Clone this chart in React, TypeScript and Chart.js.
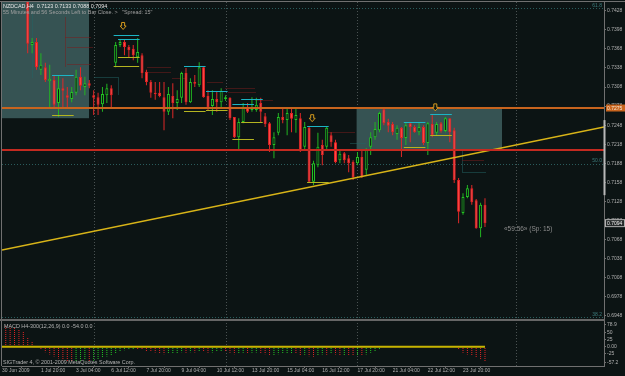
import React, { useEffect, useRef } from "react";
import { Chart, registerables } from "chart.js";

Chart.register(...registerables);

// ---------------- texts ----------------
const headerText = "NZDCAD,H4  0.7123 0.7133 0.7088 0.7094";
const timerText = '55 Minutes and 56 Seconds Left to Bar Close. >   "Spread: 15"';
const macdTitle = "MACD H4-300(12,26,9) 0.0 -54.0 0.0";
const copyrightText = "SIGTrader 4, \u00a9 2001-2009 MetaQuotes Software Corp.";
const countdownText = "\u00ab59:56\u00bb (Sp: 15)";

// ---------------- axes ----------------
const timeLabels = ["30 Jun 2009", "1 Jul 20:00", "3 Jul 04:00", "6 Jul 12:00", "7 Jul 20:00", "9 Jul 04:00", "10 Jul 12:00", "13 Jul 20:00", "15 Jul 04:00", "16 Jul 12:00", "17 Jul 20:00", "21 Jul 04:00", "22 Jul 12:00", "23 Jul 20:00"];
const timeLabelBars = [-5.85, 3, 11, 19, 27, 35, 43, 51, 59, 67, 75, 83, 91, 99];
const X_MIN = -5.85;
const X_MAX = 131.07;
const PRICE_MIN = 0.69417;
const PRICE_MAX = 0.74417;
const priceTicks = [0.7428, 0.7398, 0.7368, 0.7338, 0.7308, 0.7278, 0.7248, 0.7218, 0.7188, 0.7158, 0.7128, 0.7098, 0.7068, 0.7038, 0.7008, 0.6978, 0.6948];
const MACD_MIN = -68.9;
const MACD_MAX = 95.4;
const macdTicks = [78.9, 50, 25, 0, -25, -57.2];

// ---------------- candles (H4 bars, index 0 = 1 Jul 12:00) ----------------
const opens = [0.7458, 0.7374, 0.7379, 0.7335, 0.7339, 0.7317, 0.7319, 0.7283, 0.7306, 0.7295, 0.7289, 0.7299, 0.7324, 0.7308, 0.7314, 0.7295, 0.7292, 0.7281, 0.7295, 0.7306, 0.7346, 0.7374, 0.7379, 0.7371, 0.7368, 0.7355, 0.7358, 0.7332, 0.7316, 0.7299, 0.7299, 0.7292, 0.7269, 0.7294, 0.7283, 0.7291, 0.7330, 0.7284, 0.7316, 0.7311, 0.7339, 0.7294, 0.7278, 0.7289, 0.7284, 0.7289, 0.7291, 0.7261, 0.7229, 0.7253, 0.7276, 0.7272, 0.7272, 0.7283, 0.7262, 0.7251, 0.7217, 0.7236, 0.7261, 0.7256, 0.7267, 0.7256, 0.7259, 0.7214, 0.7244, 0.7159, 0.7185, 0.7217, 0.7214, 0.7232, 0.7221, 0.7193, 0.7204, 0.7196, 0.7190, 0.7188, 0.7198, 0.7178, 0.7214, 0.7229, 0.7240, 0.7273, 0.7253, 0.7250, 0.7234, 0.7244, 0.7228, 0.7251, 0.7245, 0.7237, 0.7245, 0.7220, 0.7250, 0.7236, 0.7251, 0.7239, 0.7259, 0.7240, 0.7162, 0.7110, 0.7135, 0.7149, 0.7130, 0.7086, 0.7123];
const highs = [0.7465, 0.7385, 0.7385, 0.7361, 0.7346, 0.7343, 0.7327, 0.7327, 0.7322, 0.7308, 0.7308, 0.7335, 0.7339, 0.7324, 0.7319, 0.7303, 0.7299, 0.7308, 0.7313, 0.7311, 0.7379, 0.7382, 0.7382, 0.7374, 0.7374, 0.7385, 0.7361, 0.7335, 0.7319, 0.7316, 0.7316, 0.7316, 0.7308, 0.7314, 0.7303, 0.7332, 0.7338, 0.7322, 0.7327, 0.7347, 0.7341, 0.7303, 0.7303, 0.7300, 0.7306, 0.7295, 0.7292, 0.7261, 0.7259, 0.7283, 0.7283, 0.7292, 0.7291, 0.7291, 0.7267, 0.7253, 0.7237, 0.7267, 0.7275, 0.7275, 0.7275, 0.7276, 0.7267, 0.7253, 0.7245, 0.7192, 0.7236, 0.7225, 0.7245, 0.7237, 0.7225, 0.7209, 0.7206, 0.7201, 0.7193, 0.7206, 0.7209, 0.7212, 0.7237, 0.7253, 0.7269, 0.7275, 0.7258, 0.7253, 0.7248, 0.7245, 0.7253, 0.7253, 0.7248, 0.7253, 0.7248, 0.7253, 0.7264, 0.7253, 0.7253, 0.7261, 0.7259, 0.7244, 0.7165, 0.7141, 0.7154, 0.7154, 0.7132, 0.7126, 0.7133];
const lows = [0.7361, 0.7361, 0.7335, 0.7327, 0.7316, 0.7276, 0.7276, 0.7261, 0.7276, 0.7276, 0.7284, 0.7295, 0.7303, 0.7295, 0.7306, 0.7264, 0.7264, 0.7269, 0.7283, 0.7276, 0.7339, 0.7371, 0.7358, 0.7355, 0.7350, 0.7346, 0.7322, 0.7311, 0.7291, 0.7288, 0.7292, 0.7240, 0.7264, 0.7259, 0.7272, 0.7283, 0.7280, 0.7283, 0.7308, 0.7308, 0.7291, 0.7272, 0.7264, 0.7269, 0.7276, 0.7286, 0.7256, 0.7228, 0.7209, 0.7251, 0.7267, 0.7269, 0.7269, 0.7253, 0.7245, 0.7206, 0.7196, 0.7232, 0.7251, 0.7232, 0.7237, 0.7236, 0.7206, 0.7209, 0.7157, 0.7154, 0.7182, 0.7185, 0.7209, 0.7214, 0.7188, 0.7188, 0.7188, 0.7174, 0.7162, 0.7185, 0.7165, 0.7170, 0.7201, 0.7225, 0.7237, 0.7248, 0.7237, 0.7232, 0.7225, 0.7198, 0.7217, 0.7221, 0.7236, 0.7232, 0.7217, 0.7201, 0.7229, 0.7232, 0.7236, 0.7237, 0.7221, 0.7157, 0.7094, 0.7107, 0.7133, 0.7123, 0.7085, 0.7072, 0.7088];
const closes = [0.7376, 0.7379, 0.7339, 0.7343, 0.7319, 0.7321, 0.7280, 0.7306, 0.7302, 0.7291, 0.7300, 0.7324, 0.7310, 0.7314, 0.7310, 0.7291, 0.7280, 0.7297, 0.7306, 0.7295, 0.7374, 0.7379, 0.7371, 0.7366, 0.7358, 0.7363, 0.7330, 0.7316, 0.7299, 0.7297, 0.7294, 0.7269, 0.7297, 0.7283, 0.7289, 0.7330, 0.7284, 0.7316, 0.7313, 0.7339, 0.7292, 0.7276, 0.7289, 0.7284, 0.7302, 0.7292, 0.7259, 0.7229, 0.7253, 0.7275, 0.7269, 0.7276, 0.7280, 0.7269, 0.7250, 0.7217, 0.7229, 0.7261, 0.7256, 0.7267, 0.7258, 0.7264, 0.7209, 0.7245, 0.7159, 0.7188, 0.7214, 0.7201, 0.7244, 0.7221, 0.7190, 0.7203, 0.7193, 0.7188, 0.7166, 0.7198, 0.7166, 0.7209, 0.7229, 0.7242, 0.7267, 0.7251, 0.7247, 0.7237, 0.7244, 0.7228, 0.7248, 0.7245, 0.7237, 0.7245, 0.7220, 0.7251, 0.7232, 0.7250, 0.7239, 0.7259, 0.7237, 0.7162, 0.7112, 0.7135, 0.7149, 0.7127, 0.7086, 0.7123, 0.7094];

// ---------------- MACD sub-window ----------------
const MACD_START = -6;
const macdHist = [80, 77, 72, 67, 61, 55, 34, 19,
  4, -10, -20, -28, -35, -42, -48, -52, -55,
  -54, -50, -48, -52, -50, -47,
  -40, -35, -30, -24, -18, -13, -10, -8,
  -9, -12, -15, -18, -21, -24, -27,
  -26, -25, -24, -20,
  -22, -20, -21, -16, -19, -22, -21, -19, -17,
  -18, -22, -27, -25, -22, -23, -22, -21, -24, -27, -32,
  -30, -27, -26, -25, -24, -25, -30, -29, -34, -36, -32, -28,
  -29, -26, -28, -31, -30, -31, -33, -30, -32, -28, -22, -16, -10,
  -5, -2, -1, 0, 1, 0.5, 0, 1, 2, 1, 0, 0.5, 1, 0, -0.5, -1,
  -3, -12, -22, -28, -33, -38, -45, -54];
const macdSignalBars = [-6, 104];
const macdSignalValues = [0, 0];

// ---------------- objects on the price chart ----------------
const trendBars = [-5.85, 131.07];
const trendPrices = [0.70517, 0.72451];
const orangeLevel = 0.7275;
const redLevel = 0.7209;
const fibPrices = [0.7432, 0.7187, 0.6946];
const fibLabels = ["61.8", "50.0", "38.2"];
const periodSeparators = [15, 45, 75, 111];
// [fromBar, toBar, topPrice, bottomPrice]
const shadedZones = [[-5.85, 13.94, 0.7445, 0.7259], [74.8, 107.87, 0.7275, 0.7209]];
// [fromBar, toBar, highPrice, lowPrice]
const rangeBoxes = [
  [20, 24.9, 0.7390, 0.7341], [21, 25, 0.7384, 0.7356], [6, 10, 0.7327, 0.7264],
  [36, 40, 0.7341, 0.7270], [41, 45, 0.7302, 0.7272], [47, 51, 0.7281, 0.7226],
  [49, 53, 0.7289, 0.7253], [64, 68, 0.7247, 0.7159], [86, 90, 0.7253, 0.7214],
  [92, 96, 0.7265, 0.7232],
];
const arrowBars = [21.7, 64.7, 92.7];
const arrowPrices = [0.7404, 0.7259, 0.7276];
// [bar0, price0, bar1, price1, kind]
const dottedTraces: any[] = [
  [1, 0.7426, 1, 0.7324, "t"], [8.5, 0.7418, 8.5, 0.7339, "r"], [8.5, 0.7387, 14.2, 0.7387, "r"],
  [8.9, 0.7371, 14.6, 0.7371, "r"], [8.9, 0.7344, 14.2, 0.7344, "r"], [15.1, 0.7324, 20.5, 0.7324, "t"],
  [20.5, 0.7324, 20.5, 0.7295, "t"], [27.2, 0.7339, 32.4, 0.7339, "r"], [27.2, 0.7332, 32.4, 0.7332, "r"],
  [32.8, 0.7322, 35.8, 0.7322, "r"], [40.8, 0.7316, 44.2, 0.7316, "r"], [44.9, 0.7306, 51.7, 0.7306, "r"],
  [45.6, 0.7300, 51.7, 0.7300, "r"], [51.7, 0.7288, 55.8, 0.7288, "r"], [68.1, 0.7237, 74.4, 0.7237, "r"],
  [73.3, 0.7220, 76.7, 0.7220, "t"], [98.8, 0.7209, 98.8, 0.7174, "t"], [98.8, 0.7193, 103.5, 0.7193, "r"],
  [98.8, 0.7174, 104, 0.7174, "t"],
];
const axisMarkPrices = [0.7256, 0.7138];

// ---------------- styles ----------------
const FONT = '"Liberation Sans", "DejaVu Sans", Arial, sans-serif';
const BG = "#0c1414";
const AXIS = "#707070";
const TICK = "#b0b0b0";

function seg(ctx: any, x0: number, y0: number, x1: number, y1: number) {
  ctx.beginPath();
  ctx.moveTo(x0, y0);
  ctx.lineTo(x1, y1);
  ctx.stroke();
}
const crisp = (v: number) => Math.round(v) + 0.5;

const decor = {
  id: "mt4decor",
  beforeDraw(chart: any) {
    const { ctx, width, height } = chart;
    ctx.save();
    ctx.fillStyle = BG;
    ctx.fillRect(0, 0, width, height);
    ctx.restore();
  },
  beforeDatasetsDraw(chart: any) {
    const { ctx, chartArea: ca } = chart;
    const { x, y } = chart.scales;
    const X = (v: number) => x.getPixelForValue(v);
    const Y = (v: number) => y.getPixelForValue(v);
    ctx.save();
    ctx.beginPath();
    ctx.rect(ca.left, y.top, ca.right - ca.left, y.bottom - y.top);
    ctx.clip();
    ctx.lineWidth = 1;
    ctx.setLineDash([1, 2]);
    ctx.strokeStyle = "#2a5c5c";
    for (const p of fibPrices) {
      const yy = crisp(Y(p));
      seg(ctx, ca.left, yy, ca.right, yy);
    }
    ctx.restore();

    ctx.save();
    ctx.lineWidth = 1;
    ctx.setLineDash([1, 2]);
    ctx.strokeStyle = "#4a5252";
    for (const b of periodSeparators) {
      const xx = crisp(X(b));
      seg(ctx, xx, ca.top, xx, ca.bottom);
    }
    ctx.restore();

    ctx.save();
    ctx.beginPath();
    ctx.rect(ca.left, y.top, ca.right - ca.left, y.bottom - y.top);
    ctx.clip();
    ctx.fillStyle = "#365353";
    for (const [a, b, top, bot] of shadedZones) {
      const x0 = X(a), x1 = X(b), y0 = Y(top), y1 = Y(bot);
      ctx.fillRect(x0, y0, x1 - x0, y1 - y0);
    }
    ctx.lineWidth = 1;
    ctx.setLineDash([1, 1]);
    for (const [a, p0, b, p1, k] of dottedTraces) {
      ctx.strokeStyle = k === "r" ? "#7a1c1c" : "#236464";
      seg(ctx, crisp(X(a)), crisp(Y(p0)), crisp(X(b)), crisp(Y(p1)));
    }
    ctx.restore();
  },
  afterDatasetsDraw(chart: any) {
    const { ctx, chartArea: ca } = chart;
    const { x, y } = chart.scales;
    const X = (v: number) => x.getPixelForValue(v);
    const Y = (v: number) => y.getPixelForValue(v);
    ctx.save();
    ctx.beginPath();
    ctx.rect(ca.left, y.top, ca.right - ca.left, y.bottom - y.top);
    ctx.clip();
    // horizontal levels
    ctx.lineWidth = 2;
    ctx.strokeStyle = "#c8641e";
    seg(ctx, ca.left, Math.round(Y(orangeLevel)), ca.right, Math.round(Y(orangeLevel)));
    ctx.strokeStyle = "#c42a20";
    seg(ctx, ca.left, Math.round(Y(redLevel)), ca.right, Math.round(Y(redLevel)));
    // range boxes
    ctx.lineWidth = 1;
    for (const [a, b, hi, lo] of rangeBoxes) {
      const x0 = X(a) - 2, x1 = X(b) + 2;
      ctx.strokeStyle = "#1cb4c4";
      seg(ctx, x0, crisp(Y(hi)), x1, crisp(Y(hi)));
      ctx.strokeStyle = "#b4b420";
      seg(ctx, x0, crisp(Y(lo)), x1, crisp(Y(lo)));
    }
    // arrows
    arrowBars.forEach((b, i) => {
      const cx = X(b), cy = Y(arrowPrices[i]);
      ctx.beginPath();
      ctx.moveTo(cx - 1.5, cy - 3.5);
      ctx.lineTo(cx + 1.5, cy - 3.5);
      ctx.lineTo(cx + 1.5, cy);
      ctx.lineTo(cx + 3, cy);
      ctx.lineTo(cx, cy + 3.5);
      ctx.lineTo(cx - 3, cy);
      ctx.lineTo(cx - 1.5, cy);
      ctx.closePath();
      ctx.fillStyle = BG;
      ctx.fill();
      ctx.strokeStyle = "#d49a1e";
      ctx.stroke();
    });
    ctx.restore();
  },
  afterDraw(chart: any) {
    const { ctx, chartArea: ca, width } = chart;
    const { x, y, ym } = chart.scales;
    const X = (v: number) => x.getPixelForValue(v);
    const Y = (v: number) => y.getPixelForValue(v);
    ctx.save();
    // frame
    ctx.strokeStyle = AXIS;
    ctx.lineWidth = 1;
    seg(ctx, 0, ca.top - 0.5, width, ca.top - 0.5);
    seg(ctx, ca.left - 0.5, ca.top, ca.left - 0.5, ca.bottom);
    seg(ctx, ca.right + 0.5, ca.top, ca.right + 0.5, ca.bottom + 1);
    seg(ctx, ca.left, ca.bottom + 0.5, ca.right, ca.bottom + 0.5);
    ctx.fillStyle = "#666666";
    ctx.fillRect(0, ym.top - 1, ca.right + 1, 2);
    // axis highlight
    ctx.strokeStyle = "#b8b8b8";
    ctx.lineWidth = 2;
    seg(ctx, ca.right + 0.5, Y(axisMarkPrices[0]), ca.right + 0.5, Y(axisMarkPrices[1]));

    // texts
    ctx.textAlign = "left";
    ctx.textBaseline = "alphabetic";
    ctx.font = `5.4px ${FONT}`;
    ctx.fillStyle = "#e6e6e6";
    ctx.fillText(headerText, 3, 7.5);
    ctx.fillStyle = "#a0a0a0";
    ctx.fillText(timerText, 3, 13.5);
    ctx.fillStyle = "#b4b4b4";
    ctx.fillText(macdTitle, 4, ym.top + 8);
    ctx.fillText(copyrightText, 3, ca.bottom - 2);
    ctx.font = `6.5px ${FONT}`;
    ctx.fillStyle = "#8c8c8c";
    ctx.fillText(countdownText, X(opens.length - 1) + 19, Y(closes[closes.length - 1]) + 8);

    // fib labels
    ctx.font = `5px ${FONT}`;
    ctx.textAlign = "right";
    ctx.fillStyle = "#3c7c7c";
    fibPrices.forEach((p, i) => {
      ctx.fillText(fibLabels[i], ca.right - 2, Math.max(Y(p) - 1.5, ca.top + 5));
    });

    // orange level box
    ctx.textAlign = "left";
    ctx.textBaseline = "middle";
    const yo = Y(orangeLevel);
    ctx.fillStyle = "#c8641e";
    ctx.fillRect(ca.right + 2, yo - 3.5, 19, 7);
    ctx.fillStyle = "#f8ecd8";
    ctx.fillText(orangeLevel.toFixed(4), ca.right + 3, yo + 0.5);
    // current price box
    const last = closes[closes.length - 1];
    const yc = Y(last);
    ctx.fillStyle = "#262a2a";
    ctx.fillRect(ca.right + 1, yc - 3.5, 20, 7);
    ctx.strokeStyle = "#b0b0b0";
    ctx.lineWidth = 1;
    ctx.strokeRect(ca.right + 1.5, yc - 3.5, 19, 7);
    ctx.fillStyle = "#f0f0f0";
    ctx.fillText(last.toFixed(4), ca.right + 3, yc + 0.5);
    ctx.restore();
  },
};

export default function App() {
  const ref = useRef<HTMLCanvasElement>(null);
  useEffect(() => {
    const canvas = ref.current as HTMLCanvasElement;
    const ctx = canvas.getContext("2d") as CanvasRenderingContext2D;
    const pattern = (color: string) => {
      const c = document.createElement("canvas");
      c.width = 1;
      c.height = 2;
      const g = c.getContext("2d") as CanvasRenderingContext2D;
      g.fillStyle = color;
      g.fillRect(0, 0, 1, 1);
      return ctx.createPattern(c, "repeat");
    };
    const macdRed = pattern("#e02424");
    const macdGreen = pattern("#22c422");
    const bull = opens.map((o, i) => closes[i] >= o);
    const tickFont = { family: FONT, size: 5 };

    const chart = new Chart(ctx, {
      type: "bar",
      data: {
        datasets: [
          {
            type: "line",
            data: trendBars.map((b, i) => ({ x: b, y: trendPrices[i] })),
            borderColor: "#d8b418",
            borderWidth: 1.5,
            pointRadius: 0,
            yAxisID: "y",
            order: 0,
          } as any,
          {
            type: "line",
            data: macdSignalBars.map((b, i) => ({ x: b, y: macdSignalValues[i] })),
            borderColor: "#c8b400",
            borderWidth: 2,
            pointRadius: 0,
            yAxisID: "ym",
            order: 0,
          } as any,
          {
            data: opens.map((o, i) => ({ x: i, y: [o, closes[i]] })),
            backgroundColor: bull.map((b) => (b ? BG : "#ff4848")),
            borderColor: bull.map((b) => (b ? "#22c422" : "#e22424")),
            borderWidth: 1,
            borderSkipped: false,
            barThickness: 3,
            grouped: false,
            inflateAmount: 0,
            yAxisID: "y",
            order: 1,
          } as any,
          {
            data: lows.map((l, i) => ({ x: i, y: [l, highs[i]] })),
            backgroundColor: bull.map((b) => (b ? "#22b422" : "#e02828")),
            borderWidth: 0,
            barThickness: 1,
            grouped: false,
            inflateAmount: 0,
            yAxisID: "y",
            order: 2,
          } as any,
          {
            data: macdHist.map((v, i) => ({ x: i + MACD_START, y: v })),
            backgroundColor: macdHist.map((v, i) => (i > 0 && v > macdHist[i - 1] ? macdGreen : macdRed)),
            borderWidth: 0,
            barThickness: 1,
            grouped: false,
            inflateAmount: 0,
            yAxisID: "ym",
            order: 3,
          } as any,
        ],
      },
      options: {
        responsive: false,
        animation: false,
        devicePixelRatio: 1,
        events: [],
        layout: { padding: { left: 2, top: 2, right: 0, bottom: 0 } },
        plugins: { legend: { display: false }, tooltip: { enabled: false } },
        scales: {
          x: {
            type: "linear",
            min: X_MIN,
            max: X_MAX,
            offset: false,
            grid: { display: true, drawOnChartArea: false, drawTicks: true, tickLength: 2, color: AXIS },
            border: { display: false },
            ticks: {
              autoSkip: false,
              maxRotation: 0,
              minRotation: 0,
              align: "start",
              padding: 0,
              color: TICK,
              font: tickFont,
              callback: (_v: any, i: number) => timeLabels[i],
            },
            afterBuildTicks: (s: any) => {
              s.ticks = timeLabelBars.map((v) => ({ value: v }));
            },
            afterFit: (s: any) => {
              s.height = 10;
              s.paddingLeft = 0;
              s.paddingRight = 0;
            },
          },
          y: {
            type: "linear",
            position: "right",
            stack: "panes",
            stackWeight: 318,
            min: PRICE_MIN,
            max: PRICE_MAX,
            grid: { display: true, drawOnChartArea: false, drawTicks: true, tickLength: 2, color: AXIS },
            border: { display: false },
            ticks: { autoSkip: false, padding: 1, color: TICK, font: tickFont, callback: (v: any) => Number(v).toFixed(4) },
            afterBuildTicks: (s: any) => {
              s.ticks = priceTicks.map((v) => ({ value: v }));
            },
            afterFit: (s: any) => {
              s.width = 21;
              s.paddingTop = 0;
              s.paddingBottom = 0;
            },
          },
          ym: {
            type: "linear",
            position: "right",
            stack: "panes",
            stackWeight: 46,
            min: MACD_MIN,
            max: MACD_MAX,
            grid: { display: true, drawOnChartArea: false, drawTicks: true, tickLength: 2, color: AXIS },
            border: { display: false },
            ticks: {
              autoSkip: false,
              padding: 1,
              color: TICK,
              font: tickFont,
              callback: (v: any) => (Number(v) === 0 ? "0.00" : String(v)),
            },
            afterBuildTicks: (s: any) => {
              s.ticks = macdTicks.map((v) => ({ value: v }));
            },
            afterFit: (s: any) => {
              s.width = 21;
              s.paddingTop = 0;
              s.paddingBottom = 0;
            },
          },
        } as any,
      },
      plugins: [decor as any],
    });
    return () => chart.destroy();
  }, []);

  return (
    <div style={{ position: "absolute", left: 0, top: 0, width: 625, height: 376, background: BG }}>
      <canvas ref={ref} width={625} height={376} style={{ display: "block", width: 625, height: 376 }} />
    </div>
  );
}
